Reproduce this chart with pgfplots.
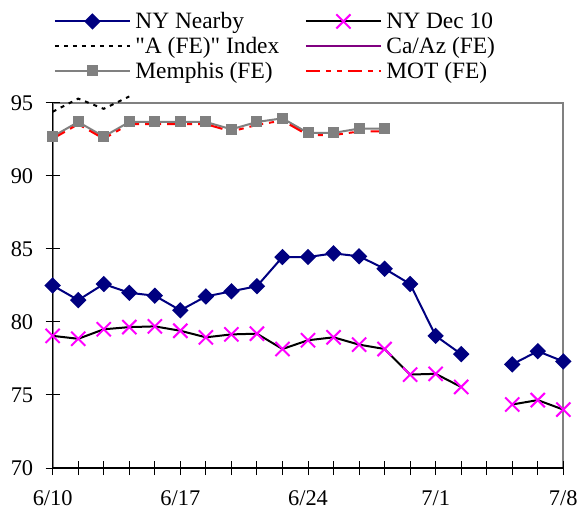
\documentclass[border=0pt]{standalone}
\usepackage{pgfplots}
\pgfplotsset{compat=1.18}
\usepackage{fontspec}
\setmainfont{Liberation Serif}
\definecolor{navy}{RGB}{0,0,128}
\definecolor{xlpurple}{RGB}{128,0,128}
\definecolor{xlgray}{RGB}{128,128,128}
\definecolor{xlmagenta}{RGB}{255,0,255}
\begin{document}
\begin{tikzpicture}
\begin{axis}[
  name=ax,
  scale only axis,
  width=510.6bp, height=365bp,
  xmin=0, xmax=20, ymin=70, ymax=95,
  xtick={0,...,20},
  xticklabels={6/10,,,,,6/17,,,,,6/24,,,,,7/1,,,,,7/8},
  ytick={70,75,...,95},
  tick align=center,
  major tick length=14bp,
  tick style={black, line width=1bp},
  axis x line*=bottom, axis y line*=left,
  axis line style={black, line width=1.5bp},
  axis background/.style={draw=xlgray, line width=2bp},
  ticklabel style={font=\fontsize{22.5}{27}\selectfont},
  /pgf/number format/assume math mode=true,
  xticklabel style={yshift=-12bp},
  yticklabel style={xshift=-9bp},
  clip=false,
  unbounded coords=jump,
  legend columns=2,
  legend image code/.code={\draw[mark repeat=2,mark phase=2,#1] plot coordinates {(0bp,0bp)(37.5bp,0bp)(75bp,0bp)};},
  legend style={
    draw=none, fill=none,
    at={(axis description cs:0.002,1.063)}, anchor=south west,
    font=\fontsize{23.5}{28}\selectfont,
    inner sep=0pt, row sep=7bp,
    nodes={inner sep=0pt},
    /tikz/every odd column/.append style={column sep=4.5bp},
  },
  legend cell align=left,
]
% NY Nearby
\addplot[navy, line width=2bp, mark=square*, mark size=4.8bp,
  mark options={rotate=45, fill=navy, draw=navy, solid}] coordinates {
  (0,82.5) (1,81.5) (2,82.6) (3,82.0) (4,81.8) (5,80.8) (6,81.75) (7,82.1)
  (8,82.45) (9,84.45) (10,84.45) (11,84.7) (12,84.5) (13,83.65) (14,82.6)
  (15,79.05) (16,77.8) (17,nan) (18,77.1) (19,78.0) (20,77.3) };
\addlegendentry{\makebox[169.5bp][l]{NY Nearby}}
% NY Dec 10
\addplot[black, line width=2bp, mark=x, mark size=10bp,
  mark options={draw=xlmagenta, line width=2bp, solid}] coordinates {
  (0,79.05) (1,78.85) (2,79.5) (3,79.65) (4,79.7) (5,79.4) (6,78.95) (7,79.15)
  (8,79.2) (9,78.15) (10,78.75) (11,78.95) (12,78.45) (13,78.15) (14,76.4)
  (15,76.45) (16,75.55) (17,nan) (18,74.35) (19,74.65) (20,74.0) };
\addlegendentry{NY Dec 10}
% "A (FE)" Index
\addplot[black, line width=2bp, dash pattern=on 4bp off 5bp] coordinates {
  (0,94.4) (1,95.3) (2,94.6) (3,95.45) };
\addlegendentry{\makebox[169.5bp][l]{\textquotedbl A (FE)\textquotedbl\ Index}}
% Ca/Az (FE)
\addlegendimage{xlpurple, line width=2bp}
\addlegendentry{Ca/Az (FE)}
% Memphis (FE)
\addplot[xlgray, line width=2bp, mark=square*, mark size=4.5bp,
  mark options={fill=xlgray, draw=xlgray, solid}] coordinates {
  (0,92.7) (1,93.7) (2,92.7) (3,93.7) (4,93.7) (5,93.7) (6,93.7) (7,93.2)
  (8,93.7) (9,93.95) (10,92.95) (11,92.95) (12,93.25) (13,93.25) };
\addlegendentry{\makebox[169.5bp][l]{Memphis (FE)}}
% MOT (FE)
\addplot[red, line width=2bp,
  dash pattern=on 14bp off 6bp on 5bp off 6bp on 5bp off 6bp] coordinates {
  (0,92.55) (1,93.55) (2,92.55) (3,93.55) (4,93.55) (5,93.55) (6,93.55) (7,93.05)
  (8,93.5) (9,93.8) (10,92.8) (11,92.8) (12,93.05) (13,93.05) };
\addlegendentry{MOT (FE)}
\end{axis}
\pgfresetboundingbox
\path[use as bounding box] ([xshift=-52.7bp,yshift=-42bp]ax.south west)
  rectangle ([xshift=525.3bp,yshift=468bp]ax.south west);
\end{tikzpicture}
\end{document}
